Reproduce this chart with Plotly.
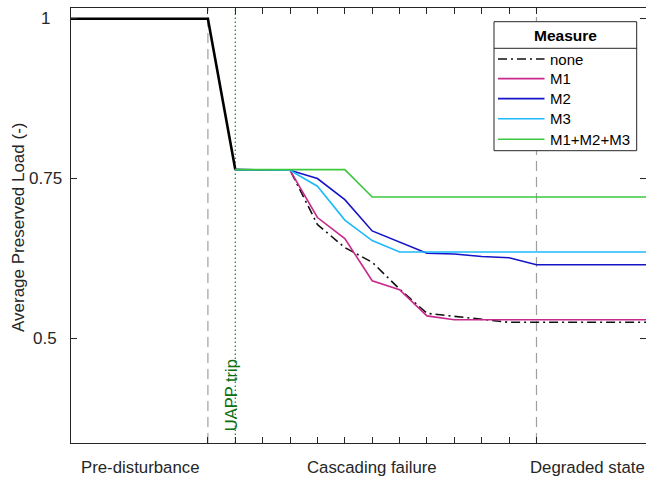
import plotly.graph_objects as go

# ---- data ----
pre_x = [0, 5, 6]
pre_y = [1.0, 1.0, 0.764]

steps = [6, 7, 8, 9, 10, 11, 12, 13, 14, 15, 16, 17, 21]
none_v = [0.764, 0.764, 0.763, 0.678, 0.642, 0.619, 0.577, 0.539, 0.534, 0.529, 0.525, 0.525, 0.525]
m1_v = [0.764, 0.764, 0.763, 0.689, 0.656, 0.590, 0.576, 0.535, 0.529, 0.529, 0.529, 0.529, 0.529]
m2_v = [0.764, 0.764, 0.763, 0.750, 0.717, 0.668, 0.651, 0.633, 0.632, 0.628, 0.626, 0.615, 0.615]
m3_v = [0.764, 0.764, 0.763, 0.738, 0.685, 0.653, 0.635, 0.635, 0.635, 0.635, 0.635, 0.635, 0.635]
all_v = [0.764, 0.764, 0.764, 0.764, 0.764, 0.721, 0.721, 0.721, 0.721, 0.721, 0.721, 0.721, 0.721]

series_names = ["none", "M1", "M2", "M3", "M1+M2+M3"]
series_vals = [none_v, m1_v, m2_v, m3_v, all_v]
series_colors = ["#111111", "#C8288C", "#1414C8", "#1EB9FA", "#3CC83C"]
series_dash = ["9px,4px,2px,4px", "solid", "solid", "solid", "solid"]

minor_ticks = list(range(5, 18))
phase_labels = ["Pre-disturbance", "Cascading failure", "Degraded state"]
phase_pos = [2.52, 11.0, 18.85]
event_lines = [5, 17]
trip_x = 6
y_ticks = [0.5, 0.75, 1.0]
y_ticklabels = ["0.5", "0.75", "1"]
y_title = "Average Preserved Load (-)"
legend_title = "Measure"

FONT = "Liberation Sans, Arial, Helvetica, sans-serif"
AX = "#262626"

W, H = 646, 481
ML, MR, MT, MB = 71, 0, 8, 38
PW, PH = W - ML - MR, H - MT - MB


def px(xp):
    return (xp - ML) / PW


def py(yp):
    return (H - MB - yp) / PH


fig = go.Figure()

fig.add_trace(go.Scatter(x=pre_x, y=pre_y, mode="lines",
                         line=dict(color="#000000", width=2.6),
                         showlegend=False, hoverinfo="skip"))

for name, vals, col, dash in zip(series_names, series_vals, series_colors, series_dash):
    fig.add_trace(go.Scatter(x=steps, y=vals, mode="lines", name=name, showlegend=False,
                             line=dict(color=col, width=1.6, dash=dash)))

for xv in event_lines:
    fig.add_shape(type="line", xref="x", yref="paper", x0=xv, x1=xv, y0=0, y1=1,
                  line=dict(color="#A0A0A0", width=1.2, dash="10px,6px"), layer="below")
fig.add_shape(type="line", xref="x", yref="paper", x0=trip_x, x1=trip_x, y0=0, y1=1,
              line=dict(color="#1E7E1E", width=1.2, dash="1.5px,2.5px"), layer="below")

fig.add_annotation(x=trip_x, xref="x", y=0, yref="paper", text="UAPP trip",
                   textangle=-90, showarrow=False, xanchor="center", yanchor="bottom",
                   xshift=-4, yshift=10, font=dict(family=FONT, size=16.5, color="#0E6F0E"))

for lab, pos in zip(phase_labels, phase_pos):
    fig.add_annotation(x=pos, xref="x", y=0, yref="paper", text=lab, showarrow=False,
                       xanchor="center", yanchor="middle", yshift=-24,
                       font=dict(family=FONT, size=16.8, color=AX))

# y tick labels (centred, as in the original)
for tv, tl in zip(y_ticks, y_ticklabels):
    fig.add_annotation(x=0, xref="paper", y=tv, yref="y", text=tl, showarrow=False,
                       xanchor="center", yanchor="middle", xshift=-26,
                       font=dict(family=FONT, size=17, color=AX))

# y axis title
fig.add_annotation(x=px(18), xref="paper", y=py(228), yref="paper", text=y_title,
                   textangle=-90, showarrow=False, xanchor="center", yanchor="middle",
                   font=dict(family=FONT, size=17, color=AX))

# ---- legend box (drawn manually to match the original layout) ----
lg_x0, lg_x1, lg_y0, lg_y1 = 494, 636.7, 21.7, 150.7
fig.add_shape(type="rect", xref="paper", yref="paper",
              x0=px(lg_x0), x1=px(lg_x1), y0=py(lg_y1), y1=py(lg_y0),
              line=dict(color=AX, width=1), fillcolor="white", layer="above")
fig.add_shape(type="line", xref="paper", yref="paper",
              x0=px(lg_x0), x1=px(lg_x1), y0=py(48.3), y1=py(48.3),
              line=dict(color=AX, width=1), layer="above")
fig.add_annotation(x=px((lg_x0 + lg_x1) / 2), y=py(35.5), xref="paper", yref="paper",
                   text="<b>" + legend_title + "</b>", showarrow=False,
                   xanchor="center", yanchor="middle",
                   font=dict(family=FONT, size=15.5, color="#000000"))
item_y = [59, 78.6, 98.6, 118.8, 139.2]
for name, col, dash, yy in zip(series_names, series_colors, series_dash, item_y):
    fig.add_shape(type="line", xref="paper", yref="paper",
                  x0=px(498), x1=px(544.5), y0=py(yy), y1=py(yy),
                  line=dict(color=col, width=1.6, dash=dash), layer="above")
    fig.add_annotation(x=px(548), y=py(yy), xref="paper", yref="paper", text=name,
                       showarrow=False, xanchor="left", yanchor="middle",
                       font=dict(family=FONT, size=15, color="#000000"))

fig.update_layout(
    width=W, height=H,
    margin=dict(l=ML, r=MR, t=MT, b=MB),
    paper_bgcolor="white", plot_bgcolor="white",
    showlegend=False,
    font=dict(family=FONT, size=16.8, color=AX),
    xaxis=dict(range=[0, 21], tickvals=minor_ticks, ticktext=[""] * len(minor_ticks),
               ticks="inside", ticklen=6, tickcolor=AX, showline=True, linecolor=AX,
               linewidth=1, mirror="ticks", showgrid=False, zeroline=False),
    yaxis=dict(range=[0.3361, 1.0169], tickvals=y_ticks, showticklabels=False,
               ticks="inside", ticklen=6, tickcolor=AX, showline=True, linecolor=AX,
               linewidth=1, mirror="ticks", showgrid=False, zeroline=False),
)

fig.write_html("out.html")
